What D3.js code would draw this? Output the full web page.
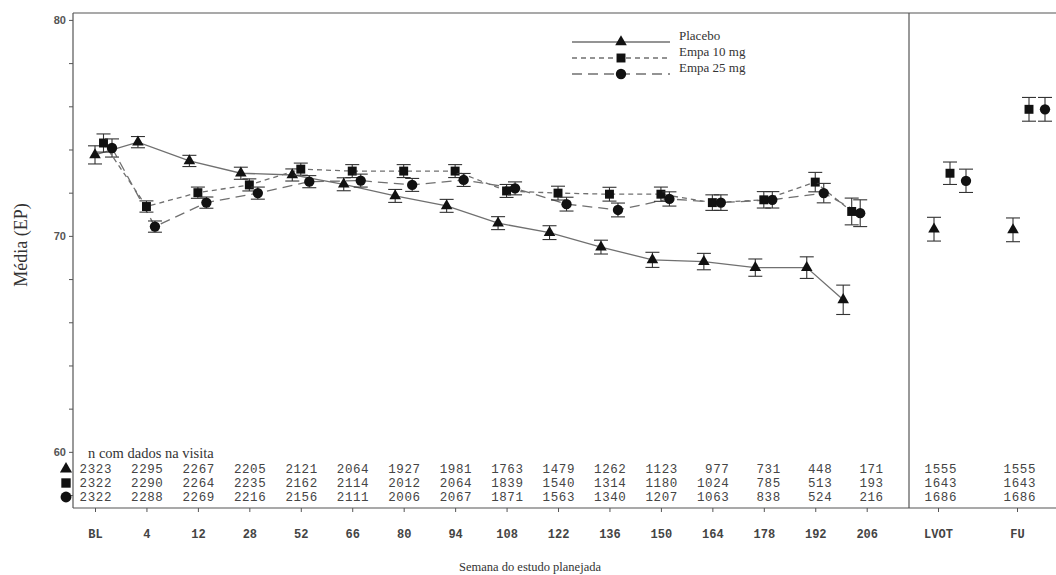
<!DOCTYPE html>
<html>
<head>
<meta charset="utf-8">
<script src="https://cdn.jsdelivr.net/npm/d3@7"></script>
<style>
  body { margin: 0; background: #fff; }
</style>
</head>
<body>
<div id="graph"></div>
<script>
// --- --- --- --- --- --- --- --- --- --- ---
// Data

let weeks = ["BL","4","12","28","52","66","80","94","108","122","136","150","164","178","192","206"];
let extra_cats = ["LVOT","FU"];
let series_names = ["Placebo","Empa 10 mg","Empa 25 mg"];

// mean per visit, BL..206
let placebo_mean = [73.75,74.34,73.47,72.90,72.82,72.39,71.85,71.39,70.59,70.15,69.48,68.89,68.81,68.53,68.53,67.04];
let empa10_mean  = [74.30,71.36,72.00,72.36,73.09,73.00,73.00,73.00,72.08,71.98,71.93,71.93,71.54,71.67,72.49,71.13];
let empa25_mean  = [74.07,70.43,71.54,71.98,72.51,72.56,72.36,72.59,72.20,71.47,71.20,71.71,71.54,71.67,71.98,71.05];

// standard error (half height of the bars)
let placebo_se = [0.42,0.26,0.26,0.28,0.28,0.30,0.30,0.30,0.30,0.32,0.32,0.35,0.38,0.40,0.50,0.68];
let empa10_se  = [0.42,0.26,0.26,0.28,0.28,0.30,0.30,0.30,0.30,0.32,0.32,0.33,0.36,0.38,0.45,0.62];
let empa25_se  = [0.42,0.26,0.26,0.28,0.28,0.30,0.30,0.30,0.30,0.32,0.32,0.33,0.36,0.38,0.45,0.62];

// LVOT, FU
let placebo_extra = [70.31,70.28];
let empa10_extra  = [72.90,75.86];
let empa25_extra  = [72.55,75.86];
let placebo_extra_se = [0.55,0.55];
let empa10_extra_se  = [0.52,0.55];
let empa25_extra_se  = [0.54,0.55];

// n com dados na visita (BL..206, LVOT, FU)
let placebo_n = [2323,2295,2267,2205,2121,2064,1927,1981,1763,1479,1262,1123,977,731,448,171,1555,1555];
let empa10_n  = [2322,2290,2264,2235,2162,2114,2012,2064,1839,1540,1314,1180,1024,785,513,193,1643,1643];
let empa25_n  = [2322,2288,2269,2216,2156,2111,2006,2067,1871,1563,1340,1207,1063,838,524,216,1686,1686];

let y_ticks = [80,70,60];

// --- --- --- --- --- --- --- --- --- --- ---
// Layout

let width = 1056, height = 575;
let frame = {left: 73, top: 13, bottom: 508, split: 909, right: 1060};

let svg = d3.select("#graph")
    .append("svg")
    .attr("width", width)
    .attr("height", height);

let y = d3.scaleLinear()
    .domain([57.4, 80.32])
    .range([frame.bottom, frame.top]);

let x_main = d3.scalePoint()
    .domain(weeks)
    .range([95, 866.7]);

let x_side = d3.scalePoint()
    .domain(extra_cats)
    .range([938, 1017]);

// marker offsets inside a visit
let dodge_main = [-8.5, 0, 8.5];
let dodge_side = [-4, 12, 28];
let cat_shift = {"BL": 8.5, "206": -15};

let symbols = [d3.symbolTriangle, d3.symbolSquare, d3.symbolCircle];
let sym_size = [58, 80, 84];
let dashes = [null, "5,4", "10,6"];

let means = [placebo_mean, empa10_mean, empa25_mean];
let ses = [placebo_se, empa10_se, empa25_se];
let extra_means = [placebo_extra, empa10_extra, empa25_extra];
let extra_ses = [placebo_extra_se, empa10_extra_se, empa25_extra_se];
let ns = [placebo_n, empa10_n, empa25_n];

// build point lists
let series = series_names.map(function(name, s){
  let pts = weeks.map(function(w, i){
    return {cat: w, v: means[s][i], se: ses[s][i],
            x: x_main(w) + dodge_main[s] + (cat_shift[w] || 0)};
  });
  let side = extra_cats.map(function(c, i){
    return {cat: c, v: extra_means[s][i], se: extra_ses[s][i],
            x: x_side(c) + dodge_side[s]};
  });
  return {name: name, s: s, pts: pts, side: side};
});

// --- --- --- --- --- --- --- --- --- --- ---
// Frame

let frameColor = "#555";
svg.append("line").attr("x1", frame.left).attr("x2", frame.right)
    .attr("y1", frame.top).attr("y2", frame.top)
    .attr("stroke", frameColor).attr("stroke-width", 1.2);
svg.append("line").attr("x1", frame.left).attr("x2", frame.right)
    .attr("y1", frame.bottom).attr("y2", frame.bottom)
    .attr("stroke", frameColor).attr("stroke-width", 1.2);
svg.append("line").attr("x1", frame.split).attr("x2", frame.split)
    .attr("y1", frame.top).attr("y2", frame.bottom)
    .attr("stroke", frameColor).attr("stroke-width", 1.2);

// y axis
let y_axis = svg.append("g")
    .attr("transform", "translate(" + frame.left + ",0)")
    .call(d3.axisLeft(y).tickValues(d3.range(58, 81, 2)).tickSize(4)
        .tickFormat(d => y_ticks.includes(d) ? d : ""));
y_axis.select(".domain").remove();
svg.append("line").attr("x1", frame.left).attr("x2", frame.left)
    .attr("y1", frame.top).attr("y2", frame.bottom)
    .attr("stroke", frameColor).attr("stroke-width", 1.2);
y_axis.selectAll(".tick line").attr("stroke", frameColor);
y_axis.selectAll(".tick text")
    .attr("x", -7)
    .style("font-family", "'Liberation Sans', Arial, sans-serif")
    .style("font-weight", "bold")
    .style("font-size", "11px")
    .style("fill", "#555");

svg.append("text")
    .attr("transform", "translate(" + 27 + "," + 245 + ") rotate(-90)")
    .style("text-anchor", "middle")
    .style("font-family", "'Liberation Serif', 'Times New Roman', serif")
    .style("font-size", "18px")
    .style("fill", "#333")
    .text("Média (EP)");

// x axes (below frame)
let x_axis_main = svg.append("g")
    .attr("transform", "translate(0," + frame.bottom + ")")
    .call(d3.axisBottom(x_main).tickSize(4).tickPadding(17));
let x_axis_side = svg.append("g")
    .attr("transform", "translate(0," + frame.bottom + ")")
    .call(d3.axisBottom(x_side).tickSize(4).tickPadding(17));
[x_axis_main, x_axis_side].forEach(function(ax){
  ax.select(".domain").remove();
  ax.selectAll(".tick line").attr("stroke", frameColor);
  ax.selectAll(".tick text")
    .style("font-family", "'Liberation Mono', 'Courier New', monospace")
    .style("font-weight", "bold")
    .style("font-size", "12px")
    .style("fill", "#444");
});

svg.append("text")
    .attr("x", 530).attr("y", 571)
    .style("text-anchor", "middle")
    .style("font-family", "'Liberation Serif', 'Times New Roman', serif")
    .style("font-size", "12.5px")
    .style("fill", "#333")
    .text("Semana do estudo planejada");

// --- --- --- --- --- --- --- --- --- --- ---
// Lines + error bars + markers

let line = d3.line().x(d => d.x).y(d => y(d.v));

series.forEach(function(sr){
  svg.append("path")
      .datum(sr.pts)
      .attr("d", line)
      .attr("fill", "none")
      .attr("stroke", "#707070")
      .attr("stroke-width", 1.3)
      .attr("stroke-dasharray", dashes[sr.s]);
});

series.forEach(function(sr){
  let all = sr.pts.concat(sr.side);
  let g = svg.append("g");
  let bars = g.selectAll(".bar").data(all).enter().append("g");
  bars.append("line")
      .attr("x1", d => d.x).attr("x2", d => d.x)
      .attr("y1", d => y(d.v + d.se)).attr("y2", d => y(d.v - d.se))
      .attr("stroke", "#333").attr("stroke-width", 1.1);
  bars.append("line")
      .attr("x1", d => d.x - 7).attr("x2", d => d.x + 7)
      .attr("y1", d => y(d.v + d.se)).attr("y2", d => y(d.v + d.se))
      .attr("stroke", "#333").attr("stroke-width", 1.1);
  bars.append("line")
      .attr("x1", d => d.x - 7).attr("x2", d => d.x + 7)
      .attr("y1", d => y(d.v - d.se)).attr("y2", d => y(d.v - d.se))
      .attr("stroke", "#333").attr("stroke-width", 1.1);
  g.selectAll(".pt").data(all).enter()
      .append("path")
      .attr("transform", d => "translate(" + d.x + "," + y(d.v) + ")")
      .attr("d", d3.symbol().type(symbols[sr.s]).size(sym_size[sr.s]))
      .attr("fill", "#111");
});

// --- --- --- --- --- --- --- --- --- --- ---
// n table

svg.append("text")
    .attr("x", 88).attr("y", 458)
    .style("font-family", "'Liberation Serif', 'Times New Roman', serif")
    .style("font-size", "14.5px")
    .style("fill", "#333")
    .text("n com dados na visita");

let all_cats = weeks.concat(extra_cats);
let row_y = [469, 483, 497];

series.forEach(function(sr){
  svg.append("path")
      .attr("transform", "translate(" + 66 + "," + row_y[sr.s] + ")")
      .attr("d", d3.symbol().type(symbols[sr.s]).size(sym_size[sr.s] * 1.1))
      .attr("fill", "#111");

  svg.selectAll(".n" + sr.s).data(ns[sr.s]).enter()
      .append("text")
      .attr("x", function(d, i){
        let c = all_cats[i];
        return weeks.includes(c) ? x_main(c) + 17 : x_side(c) + 19;
      })
      .attr("y", row_y[sr.s] + 4)
      .style("text-anchor", "end")
      .style("font-family", "'Liberation Mono', 'Courier New', monospace")
      .style("font-size", "12.5px")
      .style("letter-spacing", "0.6px")
      .style("fill", "#444")
      .text(d => d);
});

// --- --- --- --- --- --- --- --- --- --- ---
// Legend

let legend_y = [42, 58, 74];
series.forEach(function(sr){
  let ly = legend_y[sr.s];
  svg.append("line")
      .attr("x1", 572).attr("x2", 670)
      .attr("y1", ly).attr("y2", ly)
      .attr("stroke", "#707070").attr("stroke-width", 1.3)
      .attr("stroke-dasharray", dashes[sr.s]);
  svg.append("path")
      .attr("transform", "translate(" + 621 + "," + ly + ")")
      .attr("d", d3.symbol().type(symbols[sr.s]).size(sym_size[sr.s]))
      .attr("fill", "#111");
  svg.append("text")
      .attr("x", 679).attr("y", ly - 2)
      .style("font-family", "'Liberation Serif', 'Times New Roman', serif")
      .style("font-size", "13px")
      .style("fill", "#333")
      .text(sr.name);
});
</script>
</body>
</html>
